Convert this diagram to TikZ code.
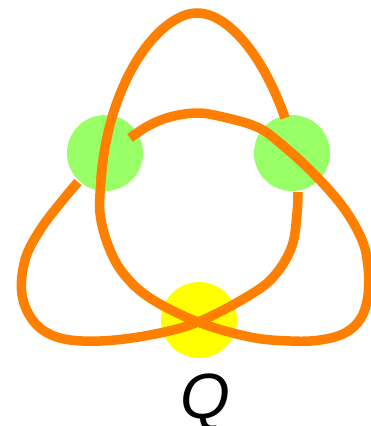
\documentclass[tikz,border=0pt]{standalone}
\usepackage{fontspec}
\setmainfont{Liberation Sans}
\definecolor{knotorange}{RGB}{255,128,0}
\definecolor{spotgreen}{RGB}{153,255,102}
\definecolor{spotyellow}{RGB}{255,255,0}
\begin{document}
\begin{tikzpicture}[x=1pt,y=-1pt,
  spot/.style={circle,inner sep=0pt,minimum size=76pt},
  strand/.style={draw=knotorange,line width=9.5pt}]
\useasboundingbox (0,0) rectangle (370,426);
\node[spot,fill=spotgreen] (gl) at (105,153) {};
\node[spot,fill=spotgreen] (gr) at (292,153) {};
\node[spot,fill=spotyellow] (yq) at (199,320) {};
\coordinate (endA) at (130,138);
\coordinate (endB) at (285,118);
\coordinate (endC) at (298,192);
\coordinate (endD) at (78,182);
\coordinate (top) at (197,13);
\coordinate (join) at (101,180);
% inner arch, right lobe, crossing, left inner strand
\path[strand] plot[smooth,tension=0.6] coordinates {
 (130,138) (148,126) (170,117) (197,113) (223,117) (257,127) (280,143)
 (313,173) (343,207)
 (362,240) (368,267) (368,295) (361,318) (345,333) (320,340) (290,341)
 (250,337) (198,322) (150,298) (123,273) (108,245) (100,213) (101,180)
 (103,160)};
% outer top arch
\path[strand] (join) .. controls (108,80) and (160,13) .. (top)
  .. controls (230,13) and (265,60) .. (endB);
% right inner strand, crossing, left lobe
\path[strand] plot[smooth,tension=0.6] coordinates {
 (298,192) (297,213) (292,246) (275,275) (250,295) (198,322) (150,335)
 (100,341) (60,338) (35,323) (22,295) (25,260) (40,230) (62,201) (78,182)};
\node[font=\itshape\fontsize{64}{64}\selectfont,anchor=base,inner sep=0pt] (q) at (205,418) {Q};
\end{tikzpicture}
\end{document}
